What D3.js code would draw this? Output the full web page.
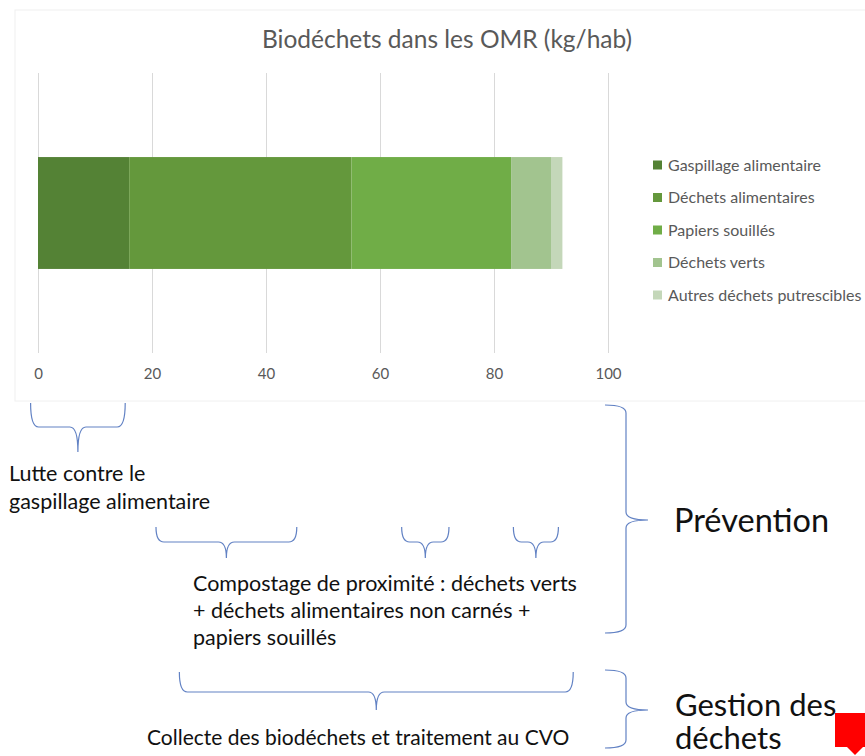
<!DOCTYPE html>
<html>
<head>
<meta charset="utf-8">
<script src="https://cdn.jsdelivr.net/npm/d3@7"></script>
<style>
  body { margin: 0; background: #fff; }
  svg { display: block; font-family: Lato, "Open Sans", sans-serif; }
</style>
</head>
<body>
<div id="chart"></div>
<script>
// data (kg/hab)
var categories = ["OMR"];
var seriesNames = ["Gaspillage alimentaire", "Déchets alimentaires", "Papiers souillés", "Déchets verts", "Autres déchets putrescibles"];
var seriesValues = [16, 39, 28, 7, 2];
var seriesColors = ["#548235", "#64983c", "#70ad47", "#a2c48f", "#c4d7b9"];
var tickValues = [0, 20, 40, 60, 80, 100];

// annotation braces, in axis units
var braceFrom = [-1.3, 20.7, 63.8, 83.4, 24.8];
var braceTo = [15.3, 45.4, 72.1, 91.3, 93.9];

var svgWidth = 865;
var svgHeight = 756;

var svg = d3.select("#chart").append("svg")
  .attr("width", svgWidth)
  .attr("height", svgHeight);

// faint chart frame
svg.append("rect")
  .attr("x", 15).attr("y", 10)
  .attr("width", 860).attr("height", 391)
  .attr("fill", "none")
  .attr("stroke", "#f0f0f0");

var xScale = d3.scaleLinear().domain([0, 100]).range([38, 608]);
var yScale = d3.scaleBand().domain(categories).range([73, 353]).padding(0.429);

// gridlines
svg.append("g")
  .selectAll("line")
  .data(tickValues)
  .enter()
  .append("line")
  .attr("x1", d => xScale(d) + 0.5)
  .attr("x2", d => xScale(d) + 0.5)
  .attr("y1", 73)
  .attr("y2", 353)
  .attr("stroke", "#d9d9d9")
  .attr("stroke-width", 1);

// axis labels
var bottomAxis = d3.axisBottom(xScale).tickValues(tickValues).tickSize(0).tickPadding(0);
var axisG = svg.append("g")
  .attr("transform", "translate(0, 368)")
  .call(bottomAxis);
axisG.select(".domain").remove();
axisG.selectAll("text")
  .attr("fill", "#595959")
  .attr("font-size", "15px")
  .attr("font-family", "Lato, sans-serif");

// stacked bar
var stackRow = {};
seriesNames.forEach((s, i) => { stackRow[s] = seriesValues[i]; });
var stacked = d3.stack().keys(seriesNames)([stackRow]);

svg.append("g")
  .selectAll("rect")
  .data(stacked)
  .enter()
  .append("rect")
  .attr("x", d => xScale(d[0][0]))
  .attr("y", yScale("OMR"))
  .attr("width", d => xScale(d[0][1]) - xScale(d[0][0]))
  .attr("height", yScale.bandwidth())
  .attr("fill", (d, i) => seriesColors[i]);

// title
svg.append("text")
  .attr("x", 447)
  .attr("y", 48)
  .attr("text-anchor", "middle")
  .attr("fill", "#595959")
  .attr("font-size", "24.5px")
  .text("Biodéchets dans les OMR (kg/hab)");

// legend
var legend = svg.append("g")
  .selectAll("g")
  .data(seriesNames)
  .enter()
  .append("g")
  .attr("transform", (d, i) => `translate(653, ${165 + i * 32.5})`);

legend.append("rect")
  .attr("x", 0).attr("y", -4.5)
  .attr("width", 9).attr("height", 9)
  .attr("fill", (d, i) => seriesColors[i]);

legend.append("text")
  .attr("x", 15)
  .attr("y", 0)
  .attr("dy", "0.35em")
  .attr("fill", "#595959")
  .attr("font-size", "16px")
  .text(d => d);

// braces
var braceColor = "#6282c4";

function hBrace(x1, x2, yTop, yMid, yTip) {
  var xm = (x1 + x2) / 2;
  var r = Math.min(8, (x2 - x1) / 5);
  return `M${x1},${yTop} Q${x1},${yMid} ${x1 + r},${yMid} H${xm - r} Q${xm},${yMid} ${xm},${yTip}` +
    ` M${xm},${yTip} Q${xm},${yMid} ${xm + r},${yMid} H${x2 - r} Q${x2},${yMid} ${x2},${yTop}`;
}

function vBrace(x0, xv, xt, yTop, yMid, yBot) {
  var r = 8;
  return `M${x0},${yTop} Q${xv},${yTop} ${xv},${yTop + r} V${yMid - r} Q${xv},${yMid} ${xt},${yMid}` +
    ` M${xt},${yMid} Q${xv},${yMid} ${xv},${yMid + r} V${yBot - r} Q${xv},${yBot} ${x0},${yBot}`;
}

var braceRows = [
  [403, 427, 452],
  [527, 542, 558],
  [527, 542, 558],
  [527, 542, 558],
  [672, 692, 710]
];

svg.append("g")
  .selectAll("path")
  .data(braceFrom)
  .enter()
  .append("path")
  .attr("d", (d, i) => hBrace(xScale(d), xScale(braceTo[i]), braceRows[i][0], braceRows[i][1], braceRows[i][2]))
  .attr("fill", "none")
  .attr("stroke", braceColor)
  .attr("stroke-width", 1.2);

svg.append("path")
  .attr("d", vBrace(605, 626, 648, 405, 520, 633))
  .attr("fill", "none")
  .attr("stroke", braceColor)
  .attr("stroke-width", 1.2);

svg.append("path")
  .attr("d", vBrace(605, 626, 648, 670, 710, 748))
  .attr("fill", "none")
  .attr("stroke", braceColor)
  .attr("stroke-width", 1.2);

// annotation texts
function addLines(lines, x, y0, step, size) {
  svg.append("text")
    .attr("x", x)
    .attr("y", y0)
    .attr("fill", "#111")
    .attr("font-size", size)
    .selectAll("tspan")
    .data(lines)
    .enter()
    .append("tspan")
    .attr("x", x)
    .attr("y", (d, i) => y0 + i * step)
    .text(d => d);
}

addLines(["Lutte contre le", "gaspillage alimentaire"], 9, 481, 28, "21.5px");
addLines(["Compostage de proximité : déchets verts", "+ déchets alimentaires non carnés +", "papiers souillés"], 193, 591, 27, "21.5px");
addLines(["Collecte des biodéchets et traitement au CVO"], 147, 745, 0, "21px");
addLines(["Prévention"], 674, 532, 0, "32.5px");
addLines(["Gestion des"], 675, 716, 0, "31px");
addLines(["déchets"], 675, 749, 0, "31px");

// red marker in the corner
svg.append("path")
  .attr("d", "M835,713 H865 V747 H863 L855,755 L847,747 H835 Z")
  .attr("fill", "#ff0000");
</script>
</body>
</html>
